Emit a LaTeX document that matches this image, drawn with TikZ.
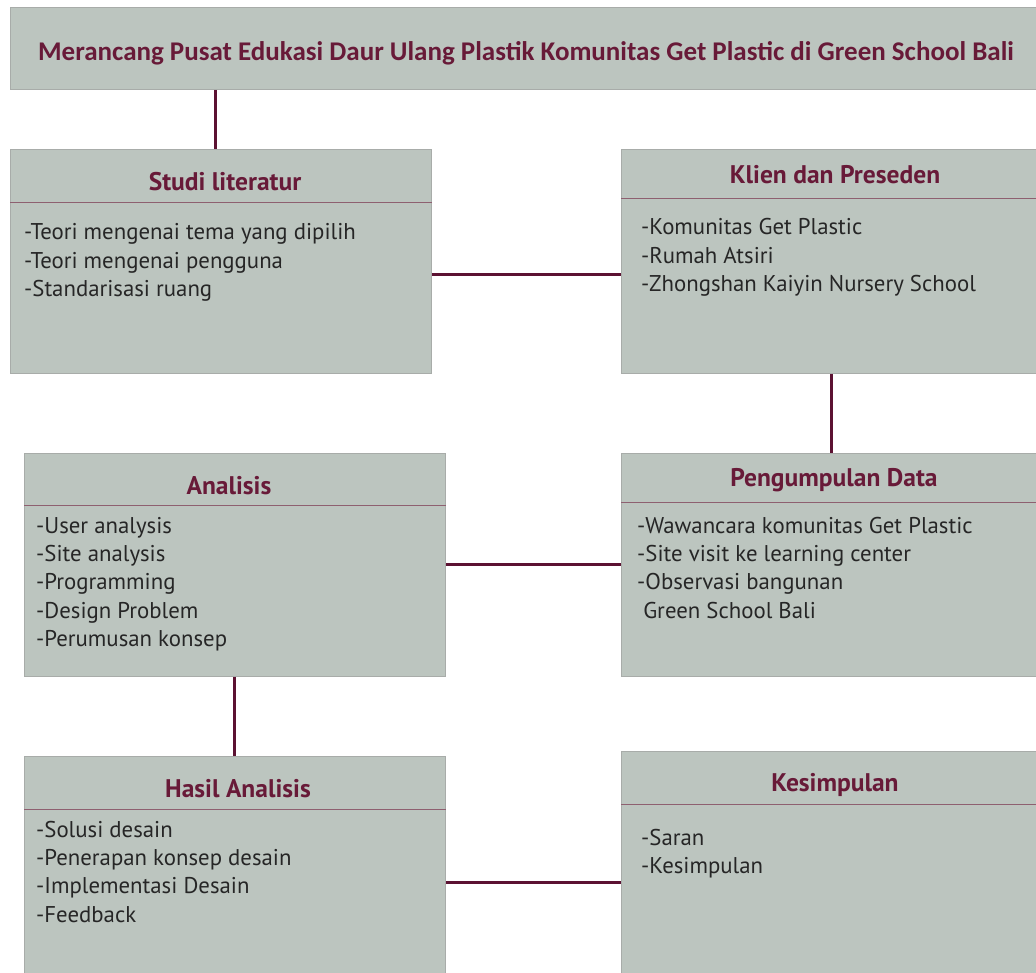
\documentclass[tikz,border=0pt]{standalone}
\usepackage{fontspec}
\setmainfont{PT Sans}
\newfontfamily\titlefont{Carlito}
\usetikzlibrary{positioning}
\definecolor{boxfill}{RGB}{188,197,191}
\definecolor{boxedge}{RGB}{168,172,169}
\definecolor{linkcol}{RGB}{92,18,50}
\definecolor{headcol}{RGB}{104,26,56}
\definecolor{rulecol}{RGB}{142,96,112}

\begin{document}
\begin{tikzpicture}[x=1pt,y=-1pt,
  box/.style={draw=boxedge,fill=boxfill,line width=0.8pt,anchor=north west,inner sep=0pt},
  head/.style={font=\fontsize{25.5}{30}\selectfont\bfseries,text=headcol,anchor=base,inner sep=0pt},
  entry/.style={font=\fontsize{22.8}{27}\selectfont,text=black!85,anchor=base west,inner sep=0pt},
  divider/.style={draw=rulecol,line width=0.8pt},
  link/.style={draw=linkcol,line width=3pt}]
  \useasboundingbox (0,0) rectangle (1036,973);
  % title bar
  \node[box,minimum width=1031pt,minimum height=82pt] (title) at (10,7) {};
  \node[font=\titlefont\fontsize{27}{32}\selectfont\bfseries,text=headcol,anchor=base,inner sep=0pt]
    (titletext) at (526,61) {Merancang Pusat Edukasi Daur Ulang Plastik Komunitas Get Plastic di Green School Bali};
  % boxes
  \node[box,minimum width=421pt,minimum height=224pt] (studi) at (10,149) {};
  \node[box,minimum width=420pt,minimum height=224pt] (klien) at (621,149) {};
  \node[box,minimum width=421pt,minimum height=223pt] (analisis) at (24,453) {};
  \node[box,minimum width=420pt,minimum height=223pt] (data) at (621,453) {};
  \node[box,minimum width=421pt,minimum height=252pt] (hasil) at (24,756) {};
  \node[box,minimum width=420pt,minimum height=262pt] (simpul) at (621,751) {};
  % headers and dividers
  \node[head] (studihead) at (225,191) {Studi literatur};
  \node[head] (klienhead) at (835,184) {Klien dan Preseden};
  \node[head] (analisishead) at (229,494) {Analisis};
  \node[head] (datahead) at (834,486) {Pengumpulan Data};
  \node[head] (hasilhead) at (238,797) {Hasil Analisis};
  \node[head] (simpulhead) at (835,791) {Kesimpulan};
  \draw[divider] (studi.west |- 0,202) -- (studi.east |- 0,202);
  \draw[divider] (klien.west |- 0,198) -- (klien.east |- 0,198);
  \draw[divider] (analisis.west |- 0,505) -- (analisis.east |- 0,505);
  \draw[divider] (data.west |- 0,502) -- (data.east |- 0,502);
  \draw[divider] (hasil.west |- 0,809) -- (hasil.east |- 0,809);
  \draw[divider] (simpul.west |- 0,804) -- (simpul.east |- 0,804);
  % entries
  \foreach \t [count=\i] in {-Teori mengenai tema yang dipilih,-Teori mengenai pengguna,-Standarisasi ruang}
    \node[entry] (studi-\i) at (24,{240+(\i-1)*28.4}) {\t};
  \foreach \t [count=\i] in {-Komunitas Get Plastic,-Rumah Atsiri,-Zhongshan Kaiyin Nursery School}
    \node[entry] (klien-\i) at (641,{235+(\i-1)*28.4}) {\t};
  \foreach \t [count=\i] in {-User analysis,-Site analysis,-Programming,-Design Problem,-Perumusan konsep}
    \node[entry] (analisis-\i) at (36,{533+(\i-1)*28.4}) {\t};
  \foreach \t [count=\i] in {-Wawancara komunitas Get Plastic,-Site visit ke learning center,-Observasi bangunan,\ Green School Bali}
    \node[entry] (data-\i) at (637,{533+(\i-1)*28.4}) {\t};
  \foreach \t [count=\i] in {-Solusi desain,-Penerapan konsep desain,-Implementasi Desain,-Feedback}
    \node[entry] (hasil-\i) at (36,{837+(\i-1)*28.4}) {\t};
  \foreach \t [count=\i] in {-Saran,-Kesimpulan}
    \node[entry] (simpul-\i) at (641,{845+(\i-1)*28.8}) {\t};
  % connectors
  \draw[link] ([xshift=-5pt]studi.north) -- ([xshift=-5pt]studi.north |- title.south);
  \draw[link] ([yshift=-13pt]studi.east) -- ([yshift=-13pt]studi.east -| klien.west);
  \draw[link] (klien.south) -- (klien.south |- data.north);
  \draw[link] (data.west) -- (data.west -| analisis.east);
  \draw[link] (analisis.south) -- (analisis.south |- hasil.north);
  \draw[link] (hasil.east) -- (hasil.east -| simpul.west);
\end{tikzpicture}
\end{document}
